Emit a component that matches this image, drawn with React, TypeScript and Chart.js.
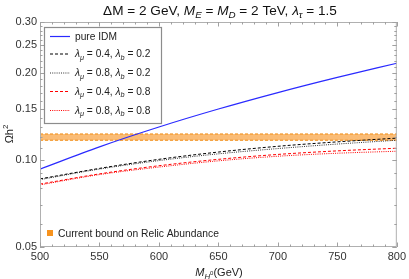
import React, { useEffect, useRef } from "react";
import { Chart, registerables } from "chart.js";

Chart.register(...registerables);

const masses = [500, 550, 600, 650, 700, 750, 800];
const pureIDM = [0.093, 0.111, 0.13, 0.15, 0.171, 0.193, 0.216];
const mu04b02 = [0.086, 0.0935, 0.1005, 0.1065, 0.1115, 0.1155, 0.119];
const mu08b02 = [0.0855, 0.093, 0.0995, 0.105, 0.1095, 0.1135, 0.117];
const mu04b08 = [0.0825, 0.0895, 0.0955, 0.1005, 0.1045, 0.1075, 0.1098];
const mu08b08 = [0.082, 0.089, 0.0945, 0.0993, 0.103, 0.1055, 0.1072];
const bandLow = [0.117, 0.117, 0.117, 0.117, 0.117, 0.117, 0.117];
const bandHigh = [0.123, 0.123, 0.123, 0.123, 0.123, 0.123, 0.123];
const yTicks = [0.05, 0.1, 0.15, 0.2, 0.25, 0.3];
const xTicks = [500, 550, 600, 650, 700, 750, 800];
const muValues = ["0.4", "0.8", "0.4", "0.8"];
const bValues = ["0.2", "0.2", "0.8", "0.8"];
const bandLabel = "Current bound on Relic Abundance";

type Seg = { t: string; i?: boolean; sub?: boolean; sup?: boolean; subsup?: boolean };
const FAM = "'Liberation Sans', Arial, sans-serif";

function segSize(s: Seg, size: number) {
  if (s.subsup) return size * 0.55;
  if (s.sub || s.sup) return size * 0.72;
  return size;
}
function segFont(s: Seg, size: number) {
  return `${s.i ? "italic " : ""}${segSize(s, size)}px ${FAM}`;
}
function richWidth(ctx: CanvasRenderingContext2D, segs: Seg[], size: number) {
  let w = 0;
  for (const s of segs) {
    ctx.font = segFont(s, size);
    w += ctx.measureText(s.t).width;
  }
  return w;
}
function drawRich(
  ctx: CanvasRenderingContext2D,
  segs: Seg[],
  x: number,
  y: number,
  size: number,
  align: "left" | "center",
  color: string
) {
  const w = richWidth(ctx, segs, size);
  let cx = align === "center" ? x - w / 2 : x;
  const base = y + size * 0.36;
  ctx.save();
  ctx.fillStyle = color;
  ctx.textAlign = "left";
  ctx.textBaseline = "alphabetic";
  for (const s of segs) {
    ctx.font = segFont(s, size);
    let off = 0;
    if (s.sub) off = size * 0.25;
    if (s.sup) off = -size * 0.42;
    if (s.subsup) off = -size * 0.05;
    ctx.fillText(s.t, cx, base + off);
    cx += ctx.measureText(s.t).width;
  }
  ctx.restore();
}

const titleSegs: Seg[] = [
  { t: "\u0394M = 2 GeV, " },
  { t: "M", i: true },
  { t: "E", i: true, sub: true },
  { t: " = " },
  { t: "M", i: true },
  { t: "D", i: true, sub: true },
  { t: " = 2 TeV, " },
  { t: "\u03bb", i: true },
  { t: "\u03c4", i: true, sub: true },
  { t: " = 1.5" },
];

function seriesSegs(k: number): Seg[] {
  if (k === 0) return [{ t: "pure IDM" }];
  return [
    { t: "\u03bb", i: true },
    { t: "\u03bc", i: true, sub: true },
    { t: ` = ${muValues[k - 1]}, ` },
    { t: "\u03bb", i: true },
    { t: "b", i: true, sub: true },
    { t: ` = ${bValues[k - 1]}` },
  ];
}

const decorPlugin = {
  id: "decor",
  afterDraw(chart: any) {
    const ctx: CanvasRenderingContext2D = chart.ctx;
    const { left, right, top, bottom } = chart.chartArea;
    const xs = chart.scales.x;
    const ys = chart.scales.y;
    ctx.save();
    // frame
    ctx.strokeStyle = "#b0b0b0";
    ctx.lineWidth = 1;
    ctx.strokeRect(left + 0.5, top + 0.5, right - left - 1, bottom - top - 1);
    // ticks
    ctx.strokeStyle = "#a0a0a0";
    ctx.beginPath();
    for (let v = 500; v <= 800; v += 10) {
      const px = Math.round(xs.getPixelForValue(v)) + 0.5;
      const len = v % 50 === 0 ? 4.5 : 2.5;
      ctx.moveTo(px, bottom);
      ctx.lineTo(px, bottom - len);
      ctx.moveTo(px, top);
      ctx.lineTo(px, top + len);
    }
    for (let i = 5; i <= 30; i++) {
      const v = i / 100;
      const py = Math.round(ys.getPixelForValue(v)) + 0.5;
      const len = i % 5 === 0 ? 4.5 : 2.5;
      ctx.moveTo(left, py);
      ctx.lineTo(left + len, py);
      ctx.moveTo(right, py);
      ctx.lineTo(right - len, py);
    }
    ctx.stroke();

    // title
    drawRich(ctx, titleSegs, 220, 10, 13.6, "center", "#111");
    // x title
    const xt: Seg[] = [
      { t: "M", i: true },
      { t: "H", i: true, sub: true },
      { t: "0", subsup: true },
      { t: "(GeV)" },
    ];
    drawRich(ctx, xt, 219, 272, 11, "center", "#222");
    // y title
    ctx.save();
    ctx.translate(9, 134);
    ctx.rotate(-Math.PI / 2);
    drawRich(ctx, [{ t: "\u03a9h" }, { t: "2", sup: true }], 0, 0, 11, "center", "#222");
    ctx.restore();

    // legend box
    const bx = 44.5, by = 27.5, bw = 117, bh = 96;
    ctx.fillStyle = "#ffffff";
    ctx.fillRect(bx, by, bw, bh);
    ctx.strokeStyle = "#8c8c8c";
    ctx.lineWidth = 1.2;
    ctx.strokeRect(bx, by, bw, bh);
    const rows = [36, 53.5, 72.5, 91, 110];
    const ds = chart.data.datasets;
    for (let k = 0; k < 5; k++) {
      const d = ds[k];
      ctx.save();
      ctx.strokeStyle = d.borderColor;
      ctx.lineWidth = d.borderWidth;
      ctx.setLineDash(d.borderDash || []);
      ctx.beginPath();
      ctx.moveTo(50, rows[k] + 0.5);
      ctx.lineTo(70, rows[k] + 0.5);
      ctx.stroke();
      ctx.restore();
      drawRich(ctx, seriesSegs(k), 75, rows[k], 10.2, "left", "#222");
    }
    // band legend
    ctx.fillStyle = "#f7931e";
    ctx.fillRect(47, 230, 6, 6);
    drawRich(ctx, [{ t: bandLabel }], 58, 233, 10.3, "left", "#222");
    ctx.restore();
  },
};

function pts(arr: number[]) {
  return masses.map((m, i) => ({ x: m, y: arr[i] }));
}

export default function App() {
  const ref = useRef<HTMLCanvasElement>(null);
  useEffect(() => {
    if (!ref.current) return;
    const line = (data: number[], color: string, dash: number[], width: number) => ({
      data: pts(data),
      borderColor: color,
      borderDash: dash,
      borderWidth: width,
      pointRadius: 0,
      fill: false,
      cubicInterpolationMode: "monotone" as const,
      order: 1,
    });
    const chart = new Chart(ref.current, {
      type: "line",
      data: {
        datasets: [
          line(pureIDM, "#2a2aff", [], 1.2),
          line(mu04b02, "#000000", [3, 2], 1),
          line(mu08b02, "#333333", [1, 1.2], 1),
          line(mu04b08, "#ff0000", [3, 2], 1),
          line(mu08b08, "#ff0000", [1, 1.2], 1),
          {
            data: pts(bandLow),
            borderColor: "#f08a10",
            borderDash: [3, 2],
            borderWidth: 1,
            pointRadius: 0,
            fill: false,
            order: 10,
          } as any,
          {
            data: pts(bandHigh),
            borderColor: "#f08a10",
            borderDash: [3, 2],
            borderWidth: 1,
            pointRadius: 0,
            fill: "-1",
            backgroundColor: "rgba(248,160,60,0.7)",
            order: 10,
          } as any,
        ],
      },
      options: {
        animation: false,
        responsive: false,
        layout: { padding: { top: 22, right: 10, left: 0, bottom: 0 } },
        plugins: { legend: { display: false }, title: { display: false }, tooltip: { enabled: false } },
        scales: {
          x: {
            type: "linear",
            min: 500,
            max: 800,
            grid: { display: false, drawTicks: false },
            border: { display: false },
            afterBuildTicks: (s: any) => {
              s.ticks = xTicks.map((v) => ({ value: v }));
            },
            afterFit: (s: any) => {
              s.height = 32;
            },
            ticks: {
              padding: 3,
              color: "#333",
              font: { family: FAM, size: 11 },
              maxRotation: 0,
              callback: (v: any) => String(v),
            },
          },
          y: {
            type: "logarithmic",
            min: 0.05,
            max: 0.3,
            grid: { display: false, drawTicks: false },
            border: { display: false },
            afterBuildTicks: (s: any) => {
              s.ticks = yTicks.map((v) => ({ value: v }));
            },
            afterFit: (s: any) => {
              s.width = 40;
            },
            ticks: {
              padding: 3,
              color: "#333",
              font: { family: FAM, size: 11 },
              callback: (v: any) => Number(v).toFixed(2),
            },
          },
        },
      },
      plugins: [decorPlugin],
    });
    return () => chart.destroy();
  }, []);
  return (
    <div style={{ position: "absolute", left: 0, top: 0, width: 409, height: 279 }}>
      <canvas ref={ref} width={409} height={279} style={{ width: 409, height: 279 }} />
    </div>
  );
}
